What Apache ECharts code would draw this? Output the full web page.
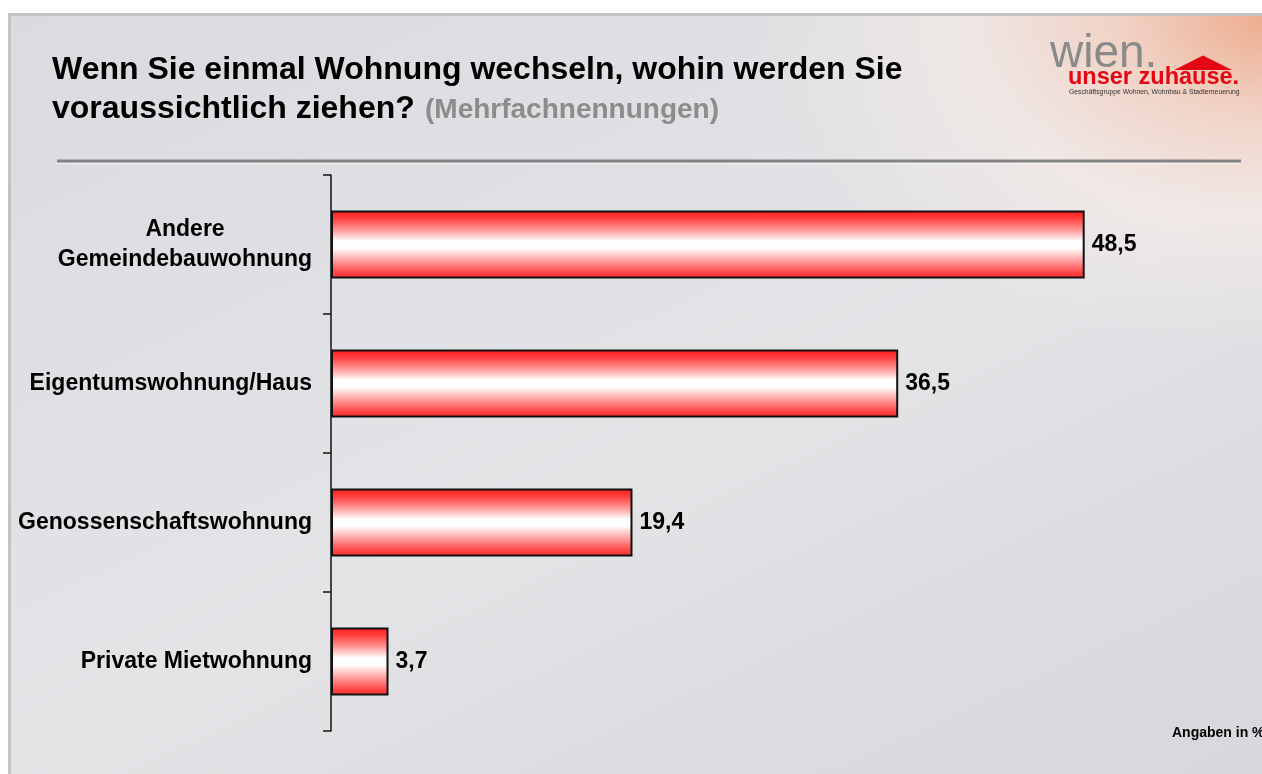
<!DOCTYPE html>
<html>
<head>
<meta charset="utf-8">
<script src="https://cdn.jsdelivr.net/npm/echarts@6/dist/echarts.min.js"></script>
<style>
html,body{margin:0;padding:0;background:#fff;}
#wrap{position:relative;width:1262px;height:774px;overflow:hidden;background:#fff;}
#frame{position:absolute;left:8px;top:13px;width:1262px;height:774px;box-sizing:border-box;
  border-left:3px solid #c4c4c6;border-top:3px solid #c4c4c6;
  background:
   radial-gradient(ellipse 520px 330px at 1262px 0px, rgba(238,168,135,0.95) 0%, rgba(246,206,188,0.75) 30%, rgba(250,236,230,0.55) 60%, rgba(240,238,240,0) 100%),
   linear-gradient(155deg, #dadbde 0%, #e0e1e4 35%, #e4e4e7 55%, #dcdde0 75%, #d7d8db 100%);}
#chart{position:absolute;left:0;top:0;width:1262px;height:774px;}
</style>
</head>
<body>
<div id="wrap"><div id="frame"></div><div id="chart"></div></div>
<script>
const categories = ['Andere\nGemeindebauwohnung', 'Eigentumswohnung/Haus', 'Genossenschaftswohnung', 'Private Mietwohnung'];
const values = [48.5, 36.5, 19.4, 3.7];
const titleLine1 = 'Wenn Sie einmal Wohnung wechseln, wohin werden Sie';
const titleLine2 = 'voraussichtlich ziehen?';
const titleNote = '(Mehrfachnennungen)';
const unitNote = 'Angaben in %';

const chart = echarts.init(document.getElementById('chart'), null, {renderer:'canvas'});
const F = 'Arial, "Liberation Sans", Helvetica, sans-serif';
const barFill = new echarts.graphic.LinearGradient(0,0,0,1,[
  {offset:0,color:'#ff1a1a'},
  {offset:0.12,color:'#ff4040'},
  {offset:0.3,color:'#ffa0a0'},
  {offset:0.45,color:'#ffffff'},
  {offset:0.55,color:'#ffffff'},
  {offset:0.72,color:'#ffa8a8'},
  {offset:0.9,color:'#ff4a4a'},
  {offset:1,color:'#ff2a2a'}
]);
chart.setOption({
  backgroundColor:'transparent',
  animation:false,
  grid:{left:331,right:154,top:175,bottom:43,containLabel:false},
  xAxis:{type:'value',min:0,max:50,show:false},
  yAxis:{type:'category',data:categories,inverse:true,
    axisLine:{show:true,lineStyle:{color:'#111',width:1.5}},
    axisTick:{show:true,length:8,lineStyle:{color:'#111',width:1.5}},
    axisLabel:{margin:19,color:'#000',fontFamily:F,fontWeight:'bold',fontSize:23,lineHeight:30,align:'right',
      formatter:v=>v.indexOf('\n')>=0 ? v.split('\n').map(s=>'{c|'+s+'}').join('\n') : v,
      rich:{c:{width:254,align:'center',color:'#000',fontFamily:F,fontWeight:'bold',fontSize:23,lineHeight:30}}},
    splitLine:{show:false}
  },
  series:[{type:'bar',data:values,barWidth:68,
    itemStyle:{color:barFill,borderColor:'#111',borderWidth:2},
    label:{show:true,position:'right',distance:7,color:'#000',fontFamily:F,fontWeight:'bold',fontSize:23,
      formatter:p=>String(p.value).replace('.',',')}
  }],
  graphic:[
    {type:'text',left:52,top:54,style:{text:titleLine1,font:'bold 32px '+F,fill:'#000'}},
    {type:'text',left:52,top:93,style:{text:titleLine2,font:'bold 32px '+F,fill:'#000'}},
    {type:'text',left:425,top:96,style:{text:titleNote,font:'bold 28px '+F,fill:'#8c8c8c'}},
    {type:'line',shape:{x1:57,y1:161,x2:1241,y2:161},style:{stroke:'#838383',lineWidth:3}},
    {type:'line',shape:{x1:57,y1:163.5,x2:1241,y2:163.5},style:{stroke:'rgba(255,255,255,0.6)',lineWidth:1}},
    // logo
    {type:'text',left:1050,top:31,style:{text:'wien.',font:'46px '+F,fill:'#8a8a8a'}},
    {type:'polygon',shape:{points:[[1174,70],[1203,55.5],[1232,70]]},style:{fill:'#e30613'}},
    {type:'text',left:1068,top:66,style:{text:'unser zuhause.',font:'bold 23.5px '+F,fill:'#e30613'}},
    {type:'text',left:1069,top:89,style:{text:'Geschäftsgruppe Wohnen, Wohnbau & Stadterneuerung',font:'6.8px '+F,fill:'#333'}},
    {type:'text',left:1172,top:726,style:{text:unitNote,font:'bold 14px '+F,fill:'#000'}}
  ]
});
</script>
</body>
</html>
